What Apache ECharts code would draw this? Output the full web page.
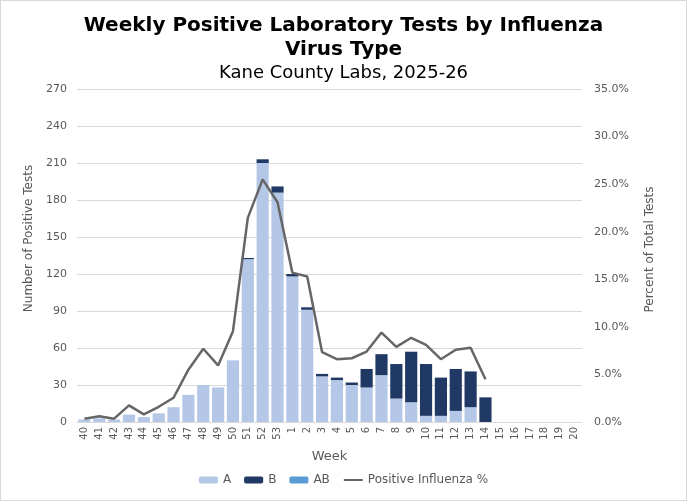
<!DOCTYPE html>
<html>
<head>
<meta charset="utf-8">
<script src="https://cdn.jsdelivr.net/npm/echarts@6/dist/echarts.min.js"></script>
<style>
  html, body { margin: 0; padding: 0; background: #fff; }
  #chart { width: 685px; height: 499px; border: 1px solid #d9d9d9; }
</style>
</head>
<body>
<div id="chart"></div>
<script>
// week labels, season 2025-26
var weeks = ['40','41','42','43','44','45','46','47','48','49','50','51','52','53',
  '1','2','3','4','5','6','7','8','9','10','11','12','13','14','15','16','17','18','19','20'];
// positive tests by type
var fluA  = [2,3,2,6,4,7,12,22,30,28,50,132,210,186,118,91,37,34,30,28,38,19,16,5,5,9,12,0];
var fluB  = [0,0,0,0,0,0,0,0,0,0,0,1,3,5,2,2,2,2,2,15,17,28,41,42,31,34,29,20];
var fluAB = [0,0,0,0,0,0,0,0,0,0,0,0,0,0,0,0,0,0,0,0,0,0,0,0,0,0,0,0];
// percent positive
var pctPos = [0.35,0.6,0.35,1.75,0.8,1.6,2.55,5.5,7.7,5.95,9.55,21.45,25.5,23.1,15.7,15.3,
  7.35,6.6,6.7,7.4,9.4,7.9,8.85,8.1,6.6,7.6,7.8,4.5];

var font = '"DejaVu Sans", Verdana, sans-serif';
var txt = '#595959';

var myChart = echarts.init(document.getElementById('chart'));
var option = {
  textStyle: { fontFamily: font },
  title: [{
    text: 'Weekly Positive Laboratory Tests by Influenza\nVirus Type',
    left: 'center', top: 8,
    textStyle: { fontFamily: font, fontSize: 20, fontWeight: 'bold', color: '#000', lineHeight: 24 }
  }, {
    text: 'Kane County Labs, 2025-26',
    left: 'center', top: 58,
    textStyle: { fontFamily: font, fontSize: 18, fontWeight: 'normal', color: '#000' }
  }],
  legend: {
    bottom: 9, left: 'center',
    itemWidth: 19, itemHeight: 7, itemGap: 13,
    textStyle: { fontFamily: font, fontSize: 12, color: txt },
    data: ['A', 'B', 'AB', { name: 'Positive Influenza %', itemStyle: { opacity: 0 } }]
  },
  grid: { left: 76, right: 104, top: 88, bottom: 78 },
  xAxis: {
    type: 'category',
    data: weeks,
    name: 'Week',
    nameLocation: 'middle',
    nameGap: 28,
    nameTextStyle: { fontFamily: font, fontSize: 13, color: txt },
    axisTick: { show: false },
    axisLine: { lineStyle: { color: '#d9d9d9' } },
    axisLabel: { rotate: 90, interval: 0, fontSize: 10, color: txt, margin: 5, fontFamily: font }
  },
  yAxis: [{
    type: 'value', min: 0, max: 270, interval: 30,
    name: 'Number of Positive Tests',
    nameLocation: 'middle', nameGap: 42, nameRotate: 90,
    nameTextStyle: { fontFamily: font, fontSize: 12, color: txt, padding: [0, 0, 0, 34] },
    axisLabel: { fontSize: 11, color: txt, margin: 10, fontFamily: font },
    splitLine: { lineStyle: { color: '#d9d9d9' } }
  }, {
    type: 'value', min: 0, max: 35, interval: 5,
    name: 'Percent of Total Tests',
    nameLocation: 'middle', nameGap: 62, nameRotate: 90,
    nameTextStyle: { fontFamily: font, fontSize: 12, color: txt, padding: [0, 0, 0, 12] },
    axisLabel: { fontSize: 11, color: txt, margin: 12, fontFamily: font,
      formatter: function (v) { return v.toFixed(1) + '%'; } },
    splitLine: { show: false }
  }],
  series: [{
    name: 'A', type: 'bar', stack: 'flu', data: fluA,
    barCategoryGap: '18%',
    itemStyle: { color: '#b4c7e7' }
  }, {
    name: 'B', type: 'bar', stack: 'flu', data: fluB,
    itemStyle: { color: '#203864' }
  }, {
    name: 'AB', type: 'bar', stack: 'flu', data: fluAB,
    itemStyle: { color: '#5b9bd5' }
  }, {
    name: 'Positive Influenza %', type: 'line', yAxisIndex: 1, data: pctPos,
    symbol: 'none',
    lineStyle: { color: '#666666', width: 2.5 },
    itemStyle: { color: '#666666' }
  }]
};
myChart.setOption(option);
</script>
</body>
</html>
